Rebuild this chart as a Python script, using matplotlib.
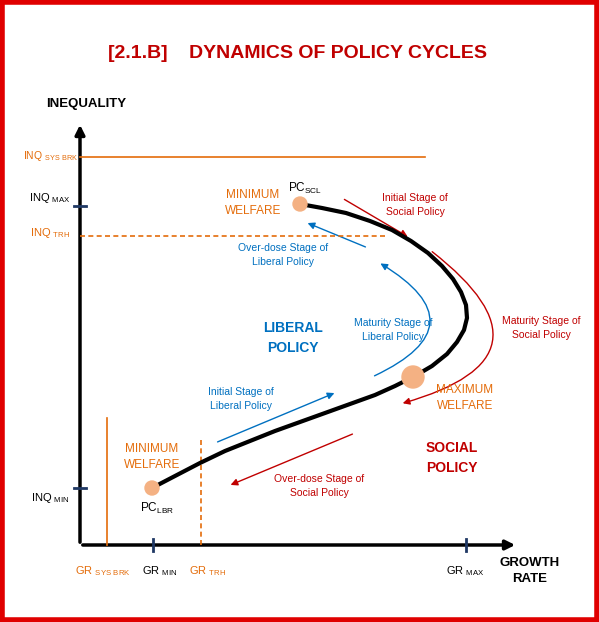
import matplotlib
matplotlib.use("Agg")
import matplotlib.pyplot as plt
from matplotlib.patches import FancyArrowPatch, Circle, Rectangle

plt.rcParams['font.family'] = ['Liberation Sans', 'DejaVu Sans']
plt.rcParams['mathtext.fontset'] = 'custom'
plt.rcParams['mathtext.rm'] = 'Liberation Sans'

ORANGE = '#E46C0A'
RED = '#C00000'
BLUE = '#0070C0'
NAVY = '#1F3864'
PEACH = '#F4B183'

# policy cycle curve (pixel space of the diagram)
curve_x = [152, 175, 200, 225, 250, 275, 300, 325, 350, 375, 395, 415, 432, 447, 457,
           464, 467, 466, 461, 453, 442, 428, 411, 392, 370, 346, 322, 300]
curve_y = [488, 476, 463, 451, 441, 431, 422, 413, 404, 395, 386, 376, 366, 354, 342,
           330, 318, 305, 292, 279, 266, 253, 241, 230, 221, 213, 208, 204]

# welfare points
pts_x = [152, 300, 413]
pts_y = [488, 204, 377]
pts_r = [7, 7, 11]

# arrows: (x0, y0, x1, y1, colour, rad)
arrows = [
    (342, 198, 410, 238, RED, 0.0),
    (430, 250, 400, 404, RED, -1.0),
    (355, 433, 228, 486, RED, 0.0),
    (215, 443, 337, 392, BLUE, 0.0),
    (372, 377, 378, 262, BLUE, 0.95),
    (368, 248, 305, 222, BLUE, 0.0),
]

fig = plt.figure(figsize=(5.99, 6.22), dpi=100)
ax = fig.add_axes([0, 0, 1, 1])
ax.set_xlim(0, 599)
ax.set_ylim(622, 0)
ax.axis('off')

ax.add_patch(Rectangle((2, 2), 595, 618, fill=False, edgecolor='#E00000', lw=4))

ax.text(298, 53, '[2.1.B]    DYNAMICS OF POLICY CYCLES', color=RED, fontsize=14,
        fontweight='bold', ha='center', va='center')

# axes
ax.add_patch(FancyArrowPatch((80, 545), (80, 122), arrowstyle='-|>', mutation_scale=14,
                             color='black', lw=2.5))
ax.add_patch(FancyArrowPatch((80, 545), (518, 545), arrowstyle='-|>', mutation_scale=14,
                             color='black', lw=2.5))

# reference lines
ax.plot([80, 425], [157, 157], color=ORANGE, lw=1.2)
ax.plot([80, 385], [236, 236], color=ORANGE, lw=1.2, ls=(0, (3, 2)))
ax.plot([107, 107], [545, 418], color=ORANGE, lw=1.2)
ax.plot([201, 201], [545, 440], color=ORANGE, lw=1.2, ls=(0, (3, 2)))

# ticks
for y in [206, 488]:
    ax.plot([74, 86], [y, y], color=NAVY, lw=2)
for x in [153, 466]:
    ax.plot([x, x], [539, 551], color=NAVY, lw=2)

# curve
ax.plot(curve_x, curve_y, color='black', lw=3, solid_capstyle='round', solid_joinstyle='round')
for x, y, r in zip(pts_x, pts_y, pts_r):
    ax.add_patch(Circle((x, y), r, color=PEACH, zorder=3))

for x0, y0, x1, y1, c, rad in arrows:
    ax.add_patch(FancyArrowPatch((x0, y0), (x1, y1), arrowstyle='-|>', mutation_scale=10,
                                 color=c, lw=1, connectionstyle=f'arc3,rad={rad}'))

fs = 7.5
def t(x, y, s, c, size=fs, bold=False, ha='center'):
    ax.text(x, y, s, color=c, fontsize=size, ha=ha, va='center',
            fontweight='bold' if bold else 'normal', linespacing=1.5)

t(253, 203, 'MINIMUM\nWELFARE', ORANGE, 8.5)
t(305, 188, r'PC$_{\mathrm{SCL}}$', 'black', 8.5)
t(415, 205, 'Initial Stage of\nSocial Policy', RED)
t(283, 255, 'Over-dose Stage of\nLiberal Policy', BLUE)
t(293, 338, 'LIBERAL\nPOLICY', BLUE, 10, True)
t(393, 330, 'Maturity Stage of\nLiberal Policy', BLUE)
t(541, 328, 'Maturity Stage of\nSocial Policy', RED)
t(241, 399, 'Initial Stage of\nLiberal Policy', BLUE)
t(465, 398, 'MAXIMUM\nWELFARE', ORANGE, 8.5)
t(452, 458, 'SOCIAL\nPOLICY', RED, 10, True)
t(152, 457, 'MINIMUM\nWELFARE', ORANGE, 8.5)
t(319, 486, 'Over-dose Stage of\nSocial Policy', RED)
t(157, 508, r'PC$_{\mathrm{LBR}}$', 'black', 8.5)

t(86, 104, 'INEQUALITY', 'black', 9.5, True)
t(530, 571, 'GROWTH\nRATE', 'black', 9.5, True)

t(103, 571, r'GR $_{\mathrm{SYS\ BRK}}$', ORANGE, 8)
t(160, 571, r'GR $_{\mathrm{MIN}}$', 'black', 8)
t(208, 571, r'GR $_{\mathrm{TRH}}$', ORANGE, 8)
t(465, 571, r'GR $_{\mathrm{MAX}}$', 'black', 8)

t(51, 156, r'INQ $_{\mathrm{SYS\ BRK}}$', ORANGE, 7.5)
t(50, 198, r'INQ $_{\mathrm{MAX}}$', 'black', 8)
t(50, 233, r'INQ $_{\mathrm{TRH}}$', ORANGE, 8)
t(50, 498, r'INQ $_{\mathrm{MIN}}$', 'black', 8)

fig.savefig('out.png', dpi=100)
